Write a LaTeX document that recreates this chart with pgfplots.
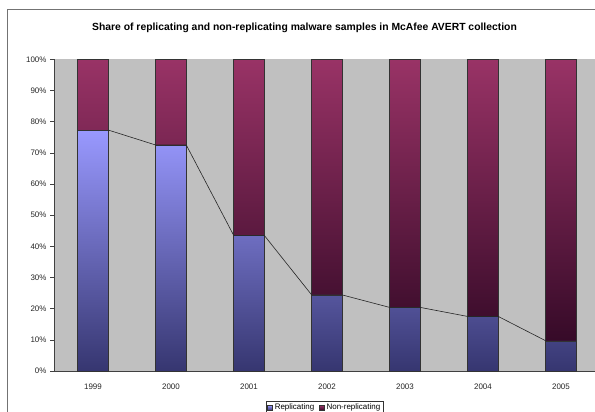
\documentclass[border=0pt]{standalone}
\usepackage{fontspec}
\setmainfont{Liberation Sans}
\usepackage{pgfplots}
\usepackage{pgfplotstable}
\pgfplotsset{compat=1.18}
\definecolor{plotgray}{HTML}{C0C0C0}
\definecolor{repTop}{HTML}{9999FF}
\definecolor{repMid}{HTML}{6E6EC4}
\definecolor{repBot}{HTML}{363670}
\definecolor{nonTop}{HTML}{993366}
\definecolor{nonBot}{HTML}{360A28}
\definecolor{axisgray}{HTML}{404040}

% share of samples, percent
\pgfplotstableread{
x year rep  non
0 1999 77.3 22.7
1 2000 72.5 27.5
2 2001 43.5 56.5
3 2002 24.4 75.6
4 2003 20.4 79.6
5 2004 17.5 82.5
6 2005  9.7 90.3
}\shares

\begin{document}
\begin{tikzpicture}
\path[use as bounding box] (0bp,0bp) rectangle (595bp,412bp);
% chart area frame (runs off the right and bottom edge in the original)
\draw[black!55, line width=0.8bp] (7.5bp,0.4bp) -- (7.5bp,402.5bp) -- (594.6bp,402.5bp);
\node[font=\bfseries\fontsize{10.4}{12}\selectfont] at (304.5bp,384bp) {Share of replicating and non-replicating malware samples in McAfee AVERT collection};

\pgfplotsset{
  base/.style={
    scale only axis,
    width=540.5bp, height=311.7bp,
    at={(54bp,41bp)}, anchor=south west,
    xmin=-0.5, xmax=6.43, ymin=0, ymax=100,
    clip=false,
  },
}

\begin{axis}[
  base,
  ybar stacked,
  bar width=30.5bp,
  axis background/.style={fill=plotgray},
  axis x line*=bottom, axis y line*=left,
  axis line style={axisgray, line width=0.7bp},
  tick align=outside,
  xtick={0,...,6},
  xticklabels={1999,2000,2001,2002,2003,2004,2005},
  xtick style={draw=none},
  minor xtick={-0.5,0.5,1.5,2.5,3.5,4.5,5.5},
  minor x tick style={axisgray, line width=0.6bp},
  minor tick length=4bp,
  ytick={0,10,...,100},
  yticklabels={0\%,10\%,20\%,30\%,40\%,50\%,60\%,70\%,80\%,90\%,100\%},
  ytick style={axisgray, line width=0.6bp},
  major tick length=4bp,
  tick label style={font=\fontsize{8}{9}\selectfont, text=black!85},
  xticklabel style={yshift=-5bp},
  legend style={
    at={(rel axis cs:0.501,-0.096)}, anchor=north,
    draw=black!80, line width=0.5bp,
    font=\fontsize{8}{9}\selectfont,
    inner xsep=1.5bp, inner ysep=1bp,
    legend columns=2,
    /tikz/every even column/.append style={column sep=3bp},
    legend cell align=left,
  },
  legend image code/.code={%
    \draw[#1, draw=black!80, line width=0.4bp] (0bp,-2.5bp) rectangle (5bp,2.5bp);},
]
\addplot[draw=black!80, line width=0.5bp, top color=repTop, middle color=repMid, bottom color=repBot]
  table[x=x, y=rep] {\shares};
\addlegendentry{Replicating}
\addplot[draw=black!80, line width=0.5bp, top color=nonTop, bottom color=nonBot]
  table[x=x, y=non] {\shares};
\addlegendentry{Non-replicating}
\end{axis}

% series lines joining the tops of the replicating bars
\begin{axis}[base, axis lines=none]
\addplot[black!85, line width=0.6bp, mark=none] coordinates {
  (0.196,77.3) (0.804,72.5) (1.196,72.5) (1.804,43.5) (2.196,43.5) (2.804,24.4)
  (3.196,24.4) (3.804,20.4) (4.196,20.4) (4.804,17.5) (5.196,17.5) (5.804,9.7)
};
\end{axis}
\end{tikzpicture}
\end{document}
